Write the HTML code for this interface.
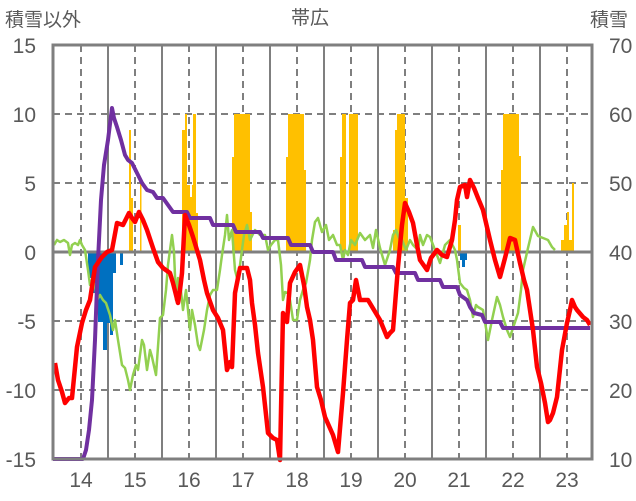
<!DOCTYPE html>
<html><head><meta charset="utf-8"><style>
html,body{margin:0;padding:0;background:#fff;}
svg{display:block;font-family:"Liberation Sans","Noto Sans CJK JP",sans-serif;}
</style></head><body>
<svg width="636" height="501" viewBox="0 0 636 501" xmlns="http://www.w3.org/2000/svg">
<g stroke="#7f7f7f" stroke-width="2" fill="none">
<g stroke-dasharray="7,5">
<line x1="81" y1="45" x2="81" y2="459"/><line x1="135" y1="45" x2="135" y2="459"/><line x1="189" y1="45" x2="189" y2="459"/><line x1="243" y1="45" x2="243" y2="459"/><line x1="297" y1="45" x2="297" y2="459"/><line x1="351" y1="45" x2="351" y2="459"/><line x1="405" y1="45" x2="405" y2="459"/><line x1="459" y1="45" x2="459" y2="459"/><line x1="513" y1="45" x2="513" y2="459"/><line x1="567" y1="45" x2="567" y2="459"/>
<line x1="53" y1="114" x2="592" y2="114"/><line x1="53" y1="183" x2="592" y2="183"/><line x1="53" y1="321" x2="592" y2="321"/><line x1="53" y1="390" x2="592" y2="390"/>
</g>
<line x1="108" y1="45" x2="108" y2="459"/><line x1="162" y1="45" x2="162" y2="459"/><line x1="216" y1="45" x2="216" y2="459"/><line x1="270" y1="45" x2="270" y2="459"/><line x1="324" y1="45" x2="324" y2="459"/><line x1="378" y1="45" x2="378" y2="459"/><line x1="432" y1="45" x2="432" y2="459"/><line x1="486" y1="45" x2="486" y2="459"/><line x1="540" y1="45" x2="540" y2="459"/>
</g>
<g fill="#ffc000">
<rect x="129" y="130" width="2" height="122"/><rect x="131" y="198" width="2" height="54"/><rect x="140" y="183" width="1.5" height="69"/>
<rect x="182" y="130" width="3" height="122"/><rect x="185" y="114" width="2" height="138"/><rect x="187" y="185" width="3" height="67"/><rect x="190" y="197" width="2" height="55"/><rect x="192" y="185" width="1.5" height="67"/><rect x="193" y="114" width="3" height="138"/><rect x="196" y="213" width="2" height="39"/>
<rect x="232" y="157" width="2" height="95"/><rect x="234" y="114" width="16" height="138"/><rect x="250" y="212" width="2" height="40"/>
<rect x="286" y="157" width="2" height="95"/><rect x="288" y="114" width="16" height="138"/><rect x="304" y="170" width="2" height="82"/>
<rect x="340" y="157" width="2" height="95"/><rect x="342" y="114" width="4" height="138"/><rect x="349" y="114" width="9" height="138"/>
<rect x="393" y="230" width="2" height="22"/><rect x="395" y="130" width="2" height="122"/><rect x="397" y="114" width="8" height="138"/><rect x="405" y="198" width="3" height="54"/>
<rect x="458" y="225" width="3" height="27"/>
<rect x="501" y="170" width="2" height="82"/><rect x="503" y="114" width="16" height="138"/><rect x="519" y="156" width="2" height="96"/>
<rect x="561" y="240" width="3" height="12"/><rect x="564" y="225" width="3" height="27"/><rect x="567" y="212" width="2" height="40"/><rect x="569" y="240" width="3" height="12"/><rect x="572" y="183" width="2" height="69"/>
</g>
<g fill="#0070c0">
<rect x="88" y="252" width="5" height="26"/><rect x="93" y="252" width="5" height="41"/><rect x="98" y="252" width="5" height="70"/><rect x="103" y="252" width="4" height="98"/><rect x="107" y="252" width="3" height="71"/><rect x="110" y="252" width="3" height="83"/><rect x="113" y="252" width="3" height="21"/><rect x="120" y="252" width="3" height="13"/>
<rect x="460" y="252" width="7" height="8"/><rect x="462" y="252" width="3" height="15"/>
</g>
<line x1="53" y1="252" x2="592" y2="252" stroke="#7f7f7f" stroke-width="3"/>
<polyline fill="none" stroke="#92d050" stroke-width="2.5" stroke-linejoin="round" points="54,245 57,240 60,242 64,240 68,243 70,255 72,245 75,243 78,245 80,240 82,245 85,250 88,270 90,285 92,280 95,285 97,300 100,295 103,300 106,303 110,315 113,330 115,320 118,340 122,365 125,368 128,380 130,390 133,375 136,365 138,370 142,340 144,345 147,370 150,350 152,357 156,375 160,318 163,315 166,290 168,265 170,250 172,235 174,252 176,300 178,278 180,282 183,310 186,290 190,330 192,310 195,325 198,345 200,350 204,330 207,310 210,295 213,290 217,290 220,270 222,255 225,235 227,215 229,240 232,230 235,270 237,278 240,265 244,235 247,225 250,240 255,230 260,235 265,235 268,250 271,245 275,240 278,240 281,265 283,300 285,292 288,293 290,300 293,320 297,320 300,300 303,290 306,283 310,260 312,240 315,222 318,218 322,232 326,225 329,240 333,235 337,245 340,245 343,260 345,250 348,255 351,240 355,245 360,233 365,240 370,235 373,248 376,230 380,248 385,265 390,250 393,235 396,230 399,238 402,240 406,250 410,240 413,245 418,250 420,235 423,245 427,235 430,237 435,250 440,263 445,245 450,240 455,250 457,260 460,283 464,288 467,290 470,300 473,317 476,305 478,307 483,310 488,340 492,320 497,297 500,305 503,317 507,330 510,337 514,325 518,313 521,290 523,270 528,248 533,227 538,236 543,238 548,240 552,247 555,250 M557,262 560,254 563,257 566,262 568,263 570,250 573,237 578,245 583,260 587,260 590,265"/>
<polyline fill="none" stroke="#7030a0" stroke-width="4" stroke-linejoin="round" points="53,459 83,459 86,450 89,430 92,400 95,340 98,260 101,200 104,165 108,140 112,108 114,118 117,127 121,140 125,155 128,160 132,163 137,173 142,183 147,190 153,192 157,198 163,198 168,205 173,212 187,212 190,218 210,218 213,225 233,225 236,232 260,232 263,238 288,238 291,245 310,245 313,252 333,252 336,260 362,260 365,267 393,267 396,273 415,273 418,280 440,280 443,287 457,287 460,295 467,300 470,307 474,313 482,315 485,322 500,322 503,328 590,328"/>
<polyline fill="none" stroke="#ff0000" stroke-width="4.5" stroke-linejoin="round" points="55,363 58,380 62,392 65,403 69,398 72,398 77,347 82,323 86,310 90,300 95,267 102,257 107,252 112,250 117,223 123,225 129,213 132,218 135,222 139,212 143,220 147,230 153,248 158,262 163,268 170,273 173,283 178,303 180,290 182,273 185,215 189,225 193,237 200,260 204,280 207,293 213,310 218,318 223,330 227,370 230,362 232,367 235,293 240,268 247,268 250,280 252,303 255,325 258,353 263,387 268,433 273,438 277,440 280,460 283,313 287,322 290,283 295,272 300,265 304,285 307,307 310,320 313,340 317,387 321,400 325,417 333,435 338,452 343,393 347,340 350,303 353,300 356,280 360,300 368,300 374,310 380,320 387,337 390,333 393,330 398,267 402,225 405,203 409,212 413,223 417,245 420,260 427,270 431,258 437,250 442,255 447,257 452,240 455,220 457,200 460,187 465,185 467,197 470,180 474,188 478,198 483,210 490,240 495,260 500,277 505,258 510,238 515,240 520,263 524,280 527,290 530,310 533,330 537,367 541,383 545,403 548,422 550,420 553,413 557,397 562,350 567,323 570,310 572,300 575,307 577,310 583,317 587,320 590,325"/>
<rect x="53" y="45" width="539" height="414" fill="none" stroke="#7f7f7f" stroke-width="3"/>
<g font-size="21" fill="#595959">
<text x="5" y="26" font-size="19">積雪以外</text>
<text x="310" y="24" font-size="19" text-anchor="middle">帯広</text>
<text x="590" y="26" font-size="19">積雪</text>
<g text-anchor="end">
<text x="36" y="53">15</text><text x="36" y="122">10</text><text x="36" y="191">5</text><text x="36" y="260">0</text><text x="36" y="329">-5</text><text x="36" y="398">-10</text><text x="36" y="467">-15</text>
</g>
<g>
<text x="609" y="53">70</text><text x="609" y="122">60</text><text x="609" y="191">50</text><text x="609" y="260">40</text><text x="609" y="329">30</text><text x="609" y="398">20</text><text x="609" y="467">10</text>
</g>
<g text-anchor="middle">
<text x="81" y="487">14</text><text x="135" y="487">15</text><text x="189" y="487">16</text><text x="243" y="487">17</text><text x="297" y="487">18</text><text x="351" y="487">19</text><text x="405" y="487">20</text><text x="459" y="487">21</text><text x="513" y="487">22</text><text x="567" y="487">23</text>
</g>
</g>
</svg>
</body></html>
